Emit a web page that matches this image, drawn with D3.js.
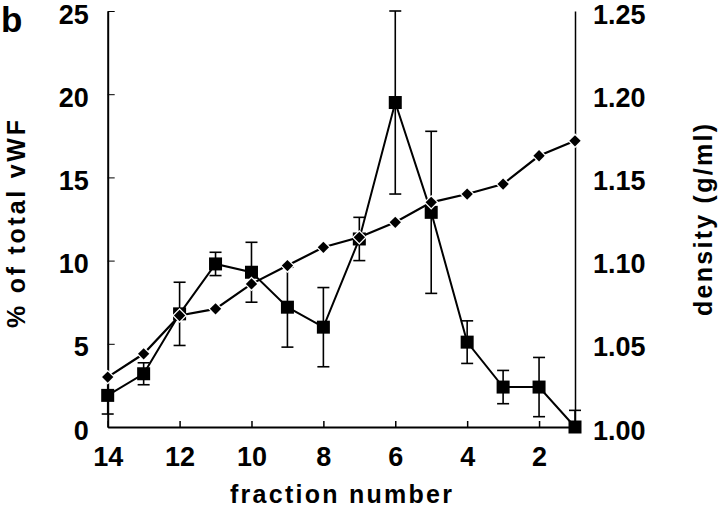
<!DOCTYPE html>
<html><head><meta charset="utf-8">
<script src="https://cdn.jsdelivr.net/npm/d3@7/dist/d3.min.js"></script>
<style>
body{margin:0;background:#fff;}
svg{display:block;font-family:"Liberation Sans",Arial,Helvetica,sans-serif;font-weight:bold;}
</style></head><body>
<svg id="c" width="720" height="508"></svg>
<script>
const fractions = [14,13,12,11,10,9,8,7,6,5,4,3,2,1];
const vwfPercent = [1.9,3.2,6.8,9.8,9.3,7.2,6.0,11.3,19.5,12.9,5.1,2.4,2.4,0.0];
const vwfError   = [1.12,0.66,1.9,0.7,1.8,2.4,2.38,1.3,5.5,4.87,1.28,1.0,1.78,1.0];
const density    = [1.030,1.044,1.067,1.071,1.086,1.097,1.108,1.114,1.123,1.135,1.140,1.146,1.163,1.172];
const xTicks = [14,12,10,8,6,4,2];
const yLeftTicks = [0,5,10,15,20,25];
const yRightTicks = [1.00,1.05,1.10,1.15,1.20,1.25];

const svg = d3.select("#c");
const x = d3.scaleLinear().domain([14,1]).range([107.7,575]);
const yL = d3.scaleLinear().domain([0,25]).range([427,11]).clamp(true);
const yR = d3.scaleLinear().domain([1.0,1.25]).range([427,11]);

// axes
const gl = svg.append("g").attr("transform","translate(107.7,0)")
  .call(d3.axisLeft(yL).tickValues(yLeftTicks).tickSizeInner(-7).tickSizeOuter(0).tickPadding(19));
gl.select(".domain").attr("stroke-width",2);
gl.selectAll(".tick line").attr("stroke-width",1);
const gb = svg.append("g").attr("transform","translate(0,427)")
  .call(d3.axisBottom(x).tickValues(xTicks).tickSizeInner(-6).tickSizeOuter(0).tickPadding(20));
gb.select(".domain").attr("stroke-width",2);
gb.selectAll(".tick line").attr("stroke-width",1.5);
const gr = svg.append("g").attr("transform","translate(575,0)")
  .call(d3.axisRight(yR).tickValues(yRightTicks).tickFormat(d3.format(".2f")).tickSize(0).tickPadding(18));
gr.select(".domain").attr("stroke-width",1.5);
svg.selectAll(".tick text").attr("font-size",27).attr("font-family",null).attr("fill","#000");
gl.selectAll(".tick text").attr("dy","0.45em");
gr.selectAll(".tick text").attr("dy","0.45em");

const pts = fractions.map((f,i)=>({f, v:vwfPercent[i], e:vwfError[i], d:density[i]}));

// error bars
const eb = svg.append("g").attr("stroke","#000").attr("stroke-width",1.6);
pts.forEach(p=>{
  const xc = x(p.f), y1 = yL(p.v + p.e), y0 = yL(p.v - p.e);
  eb.append("line").attr("x1",xc).attr("x2",xc).attr("y1",y1).attr("y2",y0);
  eb.append("line").attr("x1",xc-6).attr("x2",xc+6).attr("y1",y1).attr("y2",y1);
  if (p.v - p.e >= 0) eb.append("line").attr("x1",xc-6).attr("x2",xc+6).attr("y1",y0).attr("y2",y0);
});

// density line (diamonds)
svg.append("path").datum(pts)
  .attr("fill","none").attr("stroke","#000").attr("stroke-width",2.2)
  .attr("d", d3.line().x(p=>x(p.f)).y(p=>yR(p.d)));
// vWF line (squares)
svg.append("path").datum(pts)
  .attr("fill","none").attr("stroke","#000").attr("stroke-width",2)
  .attr("d", d3.line().x(p=>x(p.f)).y(p=>yL(p.v)));

const sq = 13;
svg.append("g").selectAll("rect").data(pts).join("rect")
  .attr("x",p=>x(p.f)-sq/2).attr("y",p=>yL(p.v)-sq/2)
  .attr("width",sq).attr("height",sq).attr("fill","#000");

const dm = d3.symbol().type(d3.symbolSquare).size(64);
svg.append("g").selectAll("path").data(pts).join("path")
  .attr("d",dm)
  .attr("transform",p=>`translate(${x(p.f)},${yR(p.d)}) rotate(45)`)
  .attr("fill","#000").attr("stroke","#fff").attr("stroke-width",2.5).attr("paint-order","stroke");

// labels
svg.append("text").attr("x",1).attr("y",32).attr("font-size",35).text("b");
svg.append("text").attr("transform","translate(25,224) rotate(-90)")
  .attr("text-anchor","middle").attr("font-size",25)
  .attr("textLength",208).attr("lengthAdjust","spacing").text("% of total vWF");
svg.append("text").attr("transform","translate(712,220) rotate(-90)")
  .attr("text-anchor","middle").attr("font-size",25)
  .attr("textLength",192).attr("lengthAdjust","spacing").text("density (g/ml)");
svg.append("text").attr("x",341).attr("y",503)
  .attr("text-anchor","middle").attr("font-size",25)
  .attr("textLength",222).attr("lengthAdjust","spacing").text("fraction number");
</script></body></html>
